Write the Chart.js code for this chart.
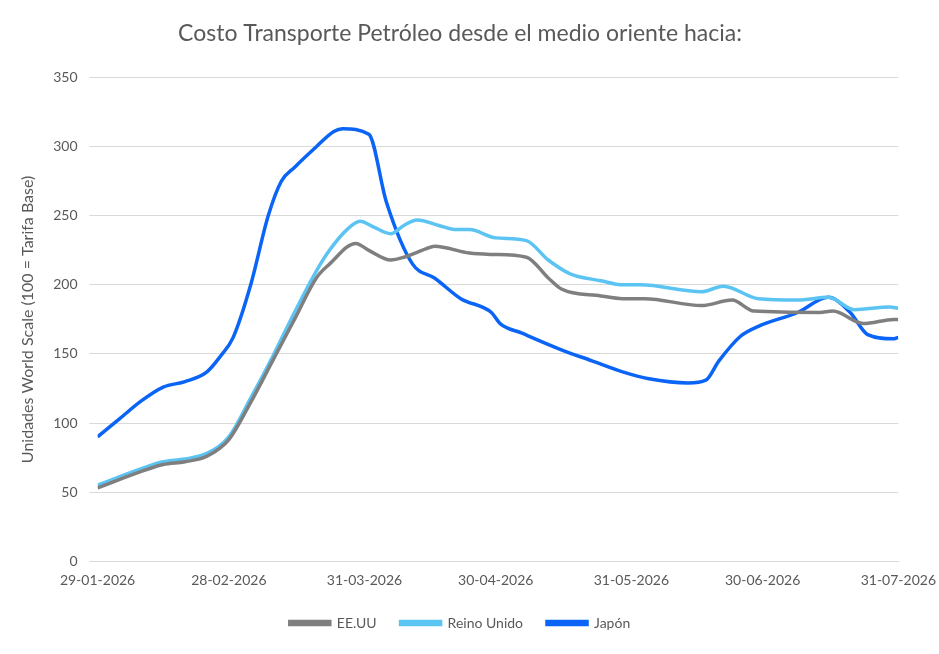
<!DOCTYPE html>
<html>
<head>
<meta charset="utf-8">
<script src="https://cdn.jsdelivr.net/npm/chart.js@4"></script>
<style>
  html, body { margin: 0; background: #fff; }
  #wrap { width: 939px; height: 654px; }
</style>
</head>
<body>
<div id="wrap"><canvas id="oilChart"></canvas></div>
<script>
// days since 29-01-2026
var tickDays = [0, 30, 61, 91, 122, 152, 183];
var tickLabels = ["29-01-2026", "28-02-2026", "31-03-2026", "30-04-2026", "31-05-2026", "30-06-2026", "31-07-2026"];

var usDays = [0, 10, 15, 20, 25, 30, 35, 40, 45, 50, 53, 59, 62, 67, 70, 75, 77, 85, 90, 98, 103, 106, 115, 120, 125, 138, 145, 150, 165, 168, 175, 182, 183];
var usVals = [53, 65, 70, 72, 76, 88, 115, 145, 175, 205, 215, 230, 225, 218, 220, 226, 228, 223, 222, 220, 205, 197, 192, 190, 190, 185, 189, 181, 180, 181, 172, 175, 175];

var ukDays = [0, 10, 15, 20, 25, 30, 35, 40, 45, 50, 53, 57, 60, 63, 67, 70, 73, 78, 82, 85, 91, 98, 103, 108, 115, 120, 124, 138, 143, 151, 160, 167, 173, 181, 183];
var ukVals = [55, 67, 72, 74, 78, 90, 118, 148, 180, 210, 225, 240, 246, 242, 237, 243, 247, 243, 240, 240, 234, 232, 218, 208, 203, 200, 200, 195, 199, 190, 189, 191, 182, 184, 183];

var jpDays = [0, 5, 10, 15, 20, 25, 28, 31, 35, 39, 42, 45, 50, 54, 56, 62, 66, 72, 77, 83, 90, 92, 97, 106, 113, 120, 126, 135, 139, 142, 147, 151, 160, 167, 172, 176, 182, 183];
var jpVals = [90, 103, 116, 126, 130, 137, 148, 162, 200, 250, 275, 285, 300, 311, 313, 309, 260, 215, 205, 190, 180, 172, 165, 153, 145, 137, 132, 129, 131, 145, 163, 170, 180, 191, 180, 164, 161, 162];

function pts(days, vals) {
	return days.map(function (d, i) { return { x: d, y: vals[i] }; });
}

var ctx = document.getElementById("oilChart").getContext("2d");
new Chart(ctx, {
	type: "line",
	data: {
		datasets: [
			{ label: "EE.UU", data: pts(usDays, usVals), borderColor: "#7f7f7f", backgroundColor: "#7f7f7f" },
			{ label: "Reino Unido", data: pts(ukDays, ukVals), borderColor: "#5bc4f2", backgroundColor: "#5bc4f2" },
			{ label: "Japón", data: pts(jpDays, jpVals), borderColor: "#0a64f5", backgroundColor: "#0a64f5" },
		],
	},
	options: {
		responsive: true,
		maintainAspectRatio: false,
		animation: false,
		layout: { padding: { left: 14, right: 33, top: 10, bottom: 14 } },
		elements: {
			line: { borderWidth: 3.5, tension: 0.4, cubicInterpolationMode: "monotone" },
			point: { radius: 0 },
		},
		plugins: {
			title: {
				display: true,
				text: "Costo Transporte Petróleo desde el medio oriente hacia:",
				color: "#595959",
				font: { family: "Lato", size: 23, weight: "normal" },
				padding: { top: 10, bottom: 30 },
			},
			legend: {
				position: "bottom",
				labels: {
					color: "#595959",
					font: { family: "Lato", size: 14 },
					boxWidth: 40,
					boxHeight: 3,
					padding: 24,
				},
			},
		},
		scales: {
			x: {
				type: "linear",
				min: 0,
				max: 183,
				afterBuildTicks: function (axis) {
					axis.ticks = tickDays.map(function (d) { return { value: d }; });
				},
				ticks: {
					color: "#595959",
					font: { family: "Lato", size: 14 },
					maxRotation: 0,
					callback: function (v) {
						var i = tickDays.indexOf(v);
						return i >= 0 ? tickLabels[i] : "";
					},
				},
				grid: { display: false },
				border: { color: "#d9d9d9" },
			},
			y: {
				min: 0,
				max: 350,
				ticks: { stepSize: 50, color: "#595959", font: { family: "Lato", size: 14 }, padding: 12 },
				grid: { color: "#d9d9d9" },
				border: { display: false },
				title: {
					display: true,
					text: "Unidades World Scale (100 = Tarifa Base)",
					color: "#595959",
					font: { family: "Lato", size: 16 },
				},
			},
		},
	},
});
</script>
</body>
</html>
